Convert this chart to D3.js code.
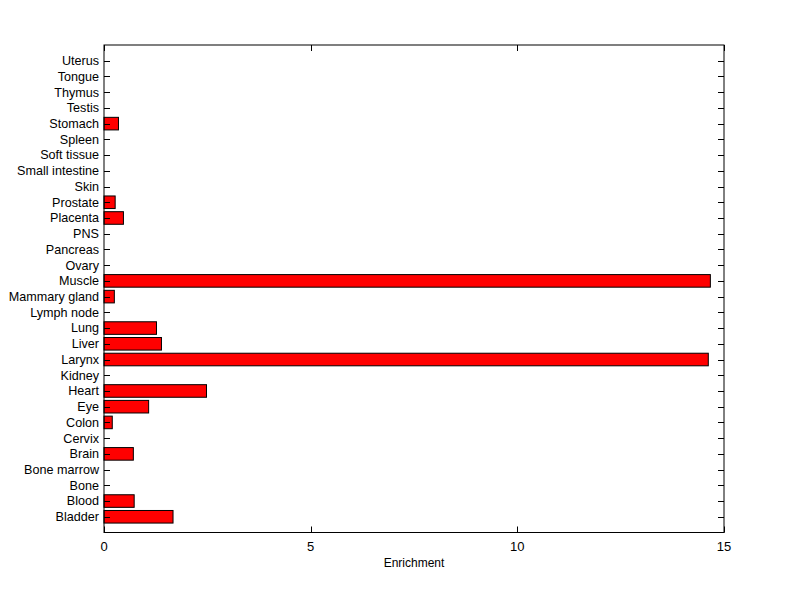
<!DOCTYPE html>
<html><head><meta charset="utf-8">
<script src="https://cdn.jsdelivr.net/npm/d3@7"></script>
<style>body{margin:0;background:#fff}svg{display:block}text{font-family:"Liberation Sans",Arial,sans-serif}</style>
</head><body><svg id="c" width="800" height="599"></svg>
<script>
const categories = ["Bladder","Blood","Bone","Bone marrow","Brain","Cervix","Colon","Eye","Heart","Kidney","Larynx","Liver","Lung","Lymph node","Mammary gland","Muscle","Ovary","Pancreas","PNS","Placenta","Prostate","Skin","Small intestine","Soft tissue","Spleen","Stomach","Testis","Thymus","Tongue","Uterus"];
const enrichment = [1.67,0.73,0,0,0.71,0,0.20,1.08,2.48,0,14.62,1.39,1.27,0,0.25,14.67,0,0,0,0.47,0.27,0,0,0,0,0.35,0,0,0,0];
const xTicks = [0,5,10,15];
const xLabel = "Enrichment";

const svg = d3.select("#c");
const L=104, R=724, T=45, B=532.5;
const x = d3.scaleLinear().domain([0,15]).range([L,R]);
const y = d3.scaleLinear().domain([0,categories.length+1]).range([B,T]);
const bw = 0.8*(y(0)-y(1));
const data = categories.map((c,i)=>({c, v:enrichment[i], p:i+1}));

svg.append("g").selectAll("rect").data(data.filter(d=>d.v>0)).join("rect")
  .attr("x", x(0)).attr("y", d=>y(d.p)-bw/2)
  .attr("width", d=>x(d.v)-x(0)).attr("height", bw)
  .attr("fill","#ff0000").attr("stroke","#000").attr("stroke-width",1);

const tl=6;
const g = svg.append("g").attr("stroke","#000").attr("stroke-width",1).attr("fill","none");
g.append("rect").attr("x",L).attr("y",T).attr("width",R-L).attr("height",B-T);
data.forEach(d=>{
  const yy=Math.round(y(d.p))+0.5;
  g.append("line").attr("x1",L).attr("x2",L+tl).attr("y1",yy).attr("y2",yy);
  g.append("line").attr("x1",R-tl).attr("x2",R).attr("y1",yy).attr("y2",yy);
});
xTicks.forEach(t=>{
  const xx=Math.round(x(t))+0.5;
  g.append("line").attr("x1",xx).attr("x2",xx).attr("y1",B).attr("y2",B-tl);
  g.append("line").attr("x1",xx).attr("x2",xx).attr("y1",T).attr("y2",T+tl);
});
svg.append("g").selectAll("text").data(data).join("text")
  .attr("x",L-5).attr("y",d=>y(d.p)).attr("dy","0.35em")
  .attr("text-anchor","end").attr("font-size",12.6).text(d=>d.c);
svg.append("g").selectAll("text").data(xTicks).join("text")
  .attr("x",d=>x(d)).attr("y",B+18).attr("text-anchor","middle").attr("font-size",13).text(d=>d);
svg.append("text").attr("x",(L+R)/2).attr("y",567).attr("text-anchor","middle").attr("font-size",12).text(xLabel);
</script></body></html>
